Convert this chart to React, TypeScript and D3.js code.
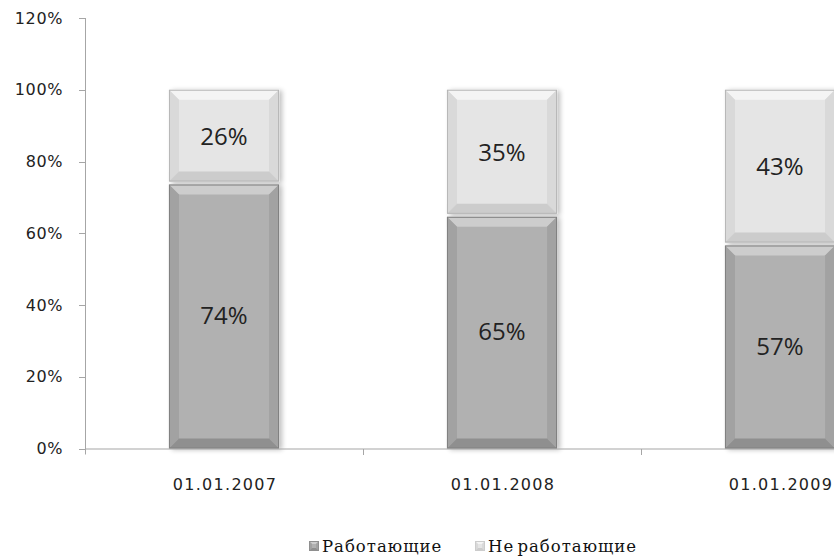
import React from 'react';
import * as d3 from 'd3';

const categories = ['01.01.2007', '01.01.2008', '01.01.2009'];
const working = [74, 65, 57];
const notWorking = [26, 35, 43];
const yTicks = [0, 20, 40, 60, 80, 100, 120];
const seriesNames = ['Работающие', 'Не работающие'];

const width = 834;
const height = 558;

interface Shade {
    base: string;
    top: string;
    bottom: string;
    side: string;
    edge: string;
}

const darkShade: Shade = { base: '#b1b1b1', top: '#cdcdcd', bottom: '#8f8f8f', side: '#a2a2a2', edge: '#808080' };
const lightShade: Shade = { base: '#e5e5e5', top: '#f4f4f4', bottom: '#cccccc', side: '#d9d9d9', edge: '#b6b6b6' };

// bevelled block like the Office "soft edge" bars
const BevelRect: React.FC<{ x: number; y: number; w: number; h: number; s: Shade; depth?: number }> = ({ x, y, w, h, s, depth = 10 }) => {
    const d = Math.min(depth, h / 2);
    const x2 = x + w;
    const y2 = y + h;
    return (
        <g>
            <rect x={x} y={y} width={w} height={h} fill={s.base} />
            <polygon points={`${x},${y} ${x2},${y} ${x2 - d},${y + d} ${x + d},${y + d}`} fill={s.top} />
            <polygon points={`${x},${y} ${x + d},${y + d} ${x + d},${y2 - d} ${x},${y2}`} fill={s.side} />
            <polygon points={`${x2},${y} ${x2 - d},${y + d} ${x2 - d},${y2 - d} ${x2},${y2}`} fill={s.side} />
            <polygon points={`${x},${y2} ${x + d},${y2 - d} ${x2 - d},${y2 - d} ${x2},${y2}`} fill={s.bottom} />
            <rect x={x + 0.5} y={y + 0.5} width={w - 1} height={h - 1} fill="none" stroke={s.edge} strokeWidth={1} />
        </g>
    );
};

export default function App() {
    const x = d3.scaleBand<string>()
        .domain(categories)
        .range([85, 85 + 278 * 3])
        .paddingInner(0.604)
        .paddingOuter(0.302);
    const y = d3.scaleLinear().domain([0, 120]).range([448.5, 18]);
    const step = x.step();
    const bw = x.bandwidth();

    return (
        <div style={{ position: 'absolute', left: 0, top: 0, width, height, overflow: 'hidden', background: '#fff' }}>
            <svg width={width} height={height} style={{ display: 'block' }}>
                <defs>
                    <filter id="shadow" x="-10%" y="-5%" width="130%" height="115%">
                        <feGaussianBlur in="SourceAlpha" stdDeviation="2.5" />
                        <feOffset dx="3" dy="1" result="b" />
                        <feComponentTransfer><feFuncA type="linear" slope="0.25" /></feComponentTransfer>
                        <feMerge><feMergeNode /><feMergeNode in="SourceGraphic" /></feMerge>
                    </filter>
                </defs>

                {/* y axis */}
                <line x1={85.5} x2={85.5} y1={y(120)} y2={y(0) + 6} stroke="#a6a6a6" strokeWidth={1} />
                {yTicks.map(t => (
                    <g key={t}>
                        <line x1={79} x2={85.5} y1={Math.round(y(t)) + 0.5} y2={Math.round(y(t)) + 0.5} stroke="#a6a6a6" />
                        <text x={63} y={y(t)} dy="0.35em" textAnchor="end" fontFamily="DejaVu Sans" fontSize={16} letterSpacing={0.6} fill="#222">{t}%</text>
                    </g>
                ))}

                {/* bars */}
                {categories.map((c, i) => {
                    const x0 = x(c)!;
                    const yMid = y(working[i]);
                    const yTop = y(working[i] + notWorking[i]);
                    return (
                        <g key={c} filter="url(#shadow)">
                            <BevelRect x={x0} y={yMid + 1.5} w={bw} h={y(0) - yMid - 1.5} s={darkShade} />
                            <BevelRect x={x0} y={yTop} w={bw} h={yMid - yTop - 1.5} s={lightShade} />
                        </g>
                    );
                })}

                {/* x axis */}
                <line x1={85} x2={width} y1={449} y2={449} stroke="#a6a6a6" strokeWidth={1.2} />
                {d3.range(1, categories.length).map(k => (
                    <line key={k} x1={85 + step * k + 0.5} x2={85 + step * k + 0.5} y1={449} y2={455} stroke="#a6a6a6" />
                ))}
                {categories.map(c => (
                    <text key={c} x={x(c)! + bw / 2 + 1} y={490} textAnchor="middle" fontFamily="DejaVu Sans" fontSize={16} letterSpacing={1.3} fill="#222">{c}</text>
                ))}

                {/* data labels */}
                {categories.map((c, i) => {
                    const cx = x(c)! + bw / 2;
                    const yMid = y(working[i]);
                    const yTop = y(working[i] + notWorking[i]);
                    return (
                        <g key={c} fontFamily="Open Sans" fontSize={24} fill="#222" textAnchor="middle">
                            <text x={cx} y={(y(0) + yMid) / 2} dy="0.35em">{working[i]}%</text>
                            <text x={cx} y={(yMid + yTop) / 2} dy="0.35em">{notWorking[i]}%</text>
                        </g>
                    );
                })}

                {/* legend */}
                {seriesNames.map((n, i) => {
                    const lx = i === 0 ? 309 : 475;
                    const s = i === 0 ? darkShade : lightShade;
                    return (
                        <g key={n}>
                            <BevelRect x={lx} y={541} w={10} h={10} s={{ ...s, edge: s.bottom }} depth={3} />
                            <text x={lx + 13} y={546} dy="0.35em" fontFamily="DejaVu Serif" fontSize={16.5} letterSpacing={1} wordSpacing={-3} fill="#111">{n}</text>
                        </g>
                    );
                })}
            </svg>
        </div>
    );
}
